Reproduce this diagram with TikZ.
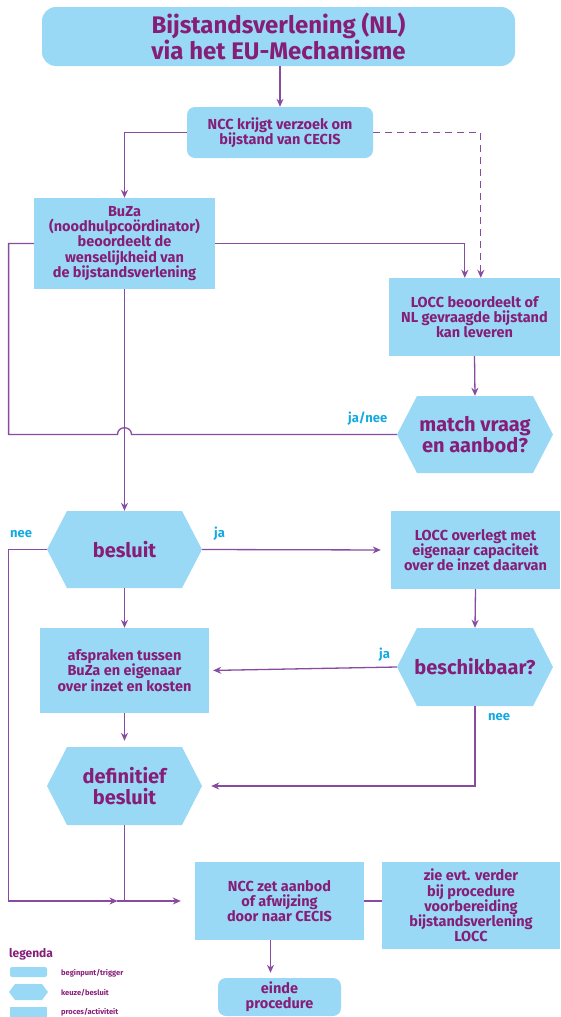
\documentclass[tikz,border=0pt]{standalone}
\usepackage{fontspec}
\setmainfont{Fira Sans}
\usetikzlibrary{arrows.meta,calc}
\definecolor{boxblue}{RGB}{153,217,245}
\definecolor{txt}{RGB}{134,30,120}
\definecolor{ln}{RGB}{135,75,160}
\definecolor{lbl}{RGB}{20,170,225}
\begin{document}
\begin{tikzpicture}[x=1pt,y=-1pt,
  base/.style={text=txt, align=center, inner sep=0pt},
  proc/.style={base, fill=boxblue, font=\bfseries\fontsize{14.5}{15.2}\selectfont},
  rproc/.style={proc, rounded corners=8pt},
  hexbox/.style={base, font=\bfseries\fontsize{20}{21}\selectfont,
    path picture={\fill[boxblue] (path picture bounding box.west)
      -- ($(path picture bounding box.north west)+(20,0)$)
      -- ($(path picture bounding box.north east)+(-20,0)$)
      -- (path picture bounding box.east)
      -- ($(path picture bounding box.south east)+(-20,0)$)
      -- ($(path picture bounding box.south west)+(20,0)$) -- cycle;}},
  conn/.style={draw=ln, line width=1.3pt},
  arr/.style={conn, -{Stealth[length=8pt,width=7pt]}},
  lab/.style={text=lbl, font=\bfseries\fontsize{13}{13}\selectfont, inner sep=0pt},
  leg/.style={text=txt, font=\bfseries\fontsize{7.5}{8}\selectfont, inner sep=0pt, anchor=base west}
]
\useasboundingbox (0,0) rectangle (560,1017);

% nodes
\node[proc, rounded corners=14pt, minimum width=473pt, minimum height=59pt,
  font=\bfseries\fontsize{24}{26}\selectfont] (title) at (278.5,36.5)
  {Bijstandsverlening (NL)\\via het EU-Mechanisme};
\node[rproc, minimum width=186pt, minimum height=51pt] (ncc) at (280,132.5)
  {NCC krijgt verzoek om\\bijstand van CECIS};
\node[proc, minimum width=181pt, minimum height=91pt] (buza) at (124.5,243.5)
  {BuZa\\(noodhulpco\"ordinator)\\beoordeelt de\\wenselijkheid van\\de bijstandsverlening};
\node[proc, minimum width=171pt, minimum height=78pt] (locc1) at (474.5,317)
  {LOCC beoordeelt of\\NL gevraagde bijstand\\kan leveren};
\node[hexbox, minimum width=156pt, minimum height=77pt] (match) at (475,434.5)
  {match vraag\\en aanbod?};
\node[hexbox, minimum width=155pt, minimum height=77pt] (besluit) at (124.5,549.5)
  {besluit};
\node[proc, minimum width=169pt, minimum height=78pt] (locc2) at (475.5,550)
  {LOCC overlegt met\\eigenaar capaciteit\\over de inzet daarvan};
\node[proc, minimum width=169pt, minimum height=85pt] (afspr) at (124.5,670.5)
  {afspraken tussen\\BuZa en eigenaar\\over inzet en kosten};
\node[hexbox, minimum width=156pt, minimum height=78pt] (beschik) at (475,667)
  {beschikbaar?};
\node[hexbox, minimum width=155pt, minimum height=78pt] (defin) at (124.5,786)
  {definitief\\besluit};
\node[proc, minimum width=169pt, minimum height=78pt] (ncc2) at (279.5,901)
  {NCC zet aanbod\\of afwijzing\\door naar CECIS};
\node[proc, minimum width=178pt, minimum height=87pt] (zie) at (471,905.5)
  {zie evt. verder\\bij procedure\\voorbereiding\\bijstandsverlening\\LOCC};
\node[rproc, minimum width=123pt, minimum height=38pt] (einde) at (279.5,997)
  {einde\\procedure};

% helper coordinates
\coordinate (lx) at (8.6,0);
\coordinate (d1) at ($(locc1.north west)+(92,0)$);
\coordinate (s1) at ($(locc1.north west)+(76,0)$);
\coordinate (hop) at (buza.south |- match.west);
\coordinate (j) at (defin.south |- ncc2.west);
\coordinate (e1) at ($(ncc2.south)+(-9,0)$);

% connectors
\draw[arr] (ncc.north |- title.south) -- (ncc.north);
\draw[arr] (ncc.west) -| (buza.north);
\draw[arr, dashed, dash pattern=on 7pt off 5pt] (ncc.east) -| (d1);
\draw[arr] (buza.east) -| (s1);
\draw[arr] (locc1.south) -- (match.north);
\draw[conn] (buza.west) -- (buza.west -| lx) -- (lx |- match.west)
  -- ($(hop)+(-7,0)$) .. controls +(0,-9) and +(0,-9) .. ($(hop)+(7,0)$)
  -- (match.west);
\draw[arr] (buza.south) -- (besluit.north);
\draw[arr, shorten >=10pt] (besluit.east) -- (locc2.west);
\draw[arr, shorten >=7pt] (besluit.west) -- (besluit.west -| lx) -- (lx |- j) -- (j);
\draw[conn] ($(j)+(-8,0)$) -- (j);
\draw[arr] (besluit.south) -- (afspr.north);
\draw[arr] (locc2.south) -- (beschik.north);
\draw[arr, shorten >=4pt] (beschik.west) -- (afspr.east);
\draw[arr, shorten >=9pt] (beschik.south) |- (defin.east);
\draw[arr, shorten >=6pt] (afspr.south) -- (defin.north);
\draw[arr, shorten >=14pt] (defin.south) -- (j) -- (ncc2.west);
\draw[conn] (ncc2.east) -- (ncc2.east -| zie.west);
\draw[arr, shorten >=5pt] (e1) -- (e1 |- einde.north);

% labels
\node[lab, anchor=base west] (l1) at (348,422) {ja/nee};
\node[lab, anchor=base west] (l2) at (10,537) {nee};
\node[lab, anchor=base west] (l3) at (214,537) {ja};
\node[lab, anchor=base west] (l4) at (379,658) {ja};
\node[lab, anchor=base west] (l5) at (488,720) {nee};

% legend
\node[text=txt, font=\bfseries\fontsize{12}{12}\selectfont, inner sep=0pt, anchor=base west] (legt) at (9,957) {legenda};
\fill[boxblue, rounded corners=2pt] (10,967) rectangle (47,977);
\fill[boxblue] (9,992) -- (15,984) -- (42,984) -- (48,992) -- (42,1000) -- (15,1000) -- cycle;
\fill[boxblue] (10,1007) rectangle (47,1017);
\node[leg] (lg1) at (61,975) {beginpunt/trigger};
\node[leg] (lg2) at (61,995) {keuze/besluit};
\node[leg] (lg3) at (61,1014) {proces/activiteit};
\end{tikzpicture}
\end{document}
